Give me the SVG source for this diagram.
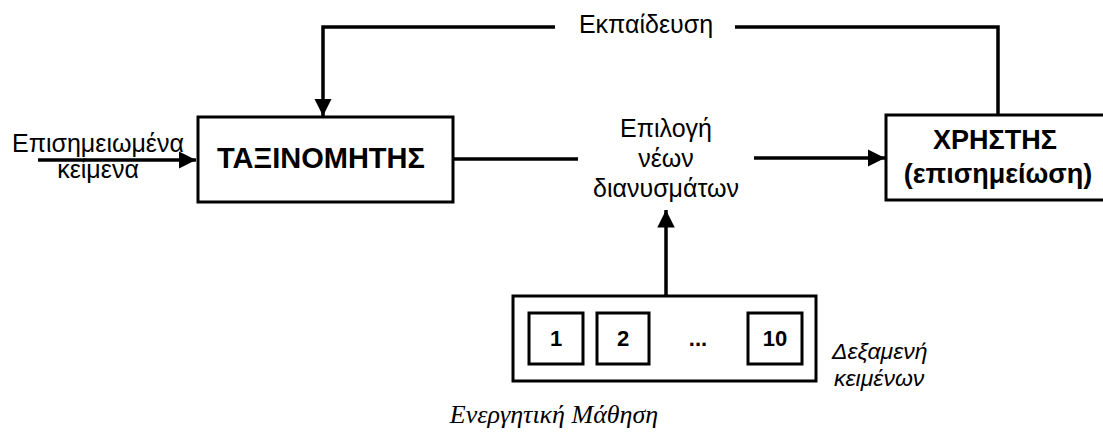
<svg xmlns="http://www.w3.org/2000/svg" width="1103" height="432" viewBox="0 0 1103 432">
  <defs>
    <marker id="arrow" viewBox="0 0 10 10" refX="10" refY="5" markerWidth="5" markerHeight="5" markerUnits="strokeWidth" orient="auto">
      <path d="M0,0 L10,5 L0,10 z" fill="#000"/>
    </marker>
    <style>
      .box { fill: #fff; stroke: #000; stroke-width: 3; }
      .line { fill: none; stroke: #000; stroke-width: 3.5; }
      .label { font-family: "Liberation Sans", Arial, sans-serif; font-size: 25px; fill: #000; text-anchor: middle; }
      .bold { font-family: "Liberation Sans", Arial, sans-serif; font-weight: bold; fill: #000; text-anchor: middle; }
      .ital { font-family: "Liberation Sans", Arial, sans-serif; font-style: italic; font-size: 23px; fill: #000; }
      .caption { font-family: "Liberation Serif", "Times New Roman", serif; font-style: italic; font-size: 26px; fill: #000; text-anchor: middle; }
    </style>
  </defs>
  <rect width="1103" height="432" fill="#fff"/>

  <!-- connectors -->
  <g id="connectors">
    <!-- training feedback loop -->
    <polyline class="line" points="555,27 323,27 323,116" marker-end="url(#arrow)"/>
    <polyline class="line" points="735,27 998,27 998,115"/>
    <!-- labelled input -->
    <line class="line" x1="38" y1="160" x2="196" y2="160" marker-end="url(#arrow)"/>
    <!-- classifier to selection -->
    <line class="line" x1="453" y1="159" x2="578" y2="159"/>
    <!-- selection to user -->
    <line class="line" x1="754" y1="158" x2="885" y2="158" marker-end="url(#arrow)"/>
    <!-- pool to selection -->
    <line class="line" x1="666" y1="296" x2="666" y2="210" marker-end="url(#arrow)"/>
  </g>

  <g id="training-label">
    <text class="label" x="646" y="33">Εκπαίδευση</text>
  </g>

  <g id="input-label">
    <text class="label" x="98" y="152">Επισημειωμένα</text>
    <text class="label" x="98" y="178">κείμενα</text>
  </g>

  <g id="classifier">
    <rect class="box" x="198" y="117" width="255" height="85"/>
    <text class="bold" x="321" y="168" font-size="29">ΤΑΞΙΝΟΜΗΤΗΣ</text>
  </g>

  <g id="selection">
    <text class="label" x="666" y="137">Επιλογή</text>
    <text class="label" x="666" y="167">νέων</text>
    <text class="label" x="666" y="197">διανυσμάτων</text>
  </g>

  <g id="user">
    <rect class="box" x="886" y="115" width="219" height="85"/>
    <text class="bold" x="995" y="149" font-size="27">ΧΡΗΣΤΗΣ</text>
    <text class="bold" x="998" y="183" font-size="27">(επισημείωση)</text>
  </g>

  <g id="pool">
    <rect class="box" x="513" y="296" width="303" height="85"/>
    <rect class="box" x="529" y="313" width="54" height="51"/>
    <text class="bold" x="556" y="346" font-size="22">1</text>
    <rect class="box" x="597" y="313" width="52" height="51"/>
    <text class="bold" x="623" y="346" font-size="22">2</text>
    <text class="bold" x="698" y="346" font-size="22">...</text>
    <rect class="box" x="748" y="313" width="54" height="51"/>
    <text class="bold" x="775" y="346" font-size="22">10</text>
  </g>

  <g id="pool-label">
    <text class="ital" x="832" y="359">Δεξαμενή</text>
    <text class="ital" x="834" y="386">κειμένων</text>
  </g>

  <g id="caption">
    <text class="caption" x="554" y="423">Ενεργητική Μάθηση</text>
  </g>
</svg>
